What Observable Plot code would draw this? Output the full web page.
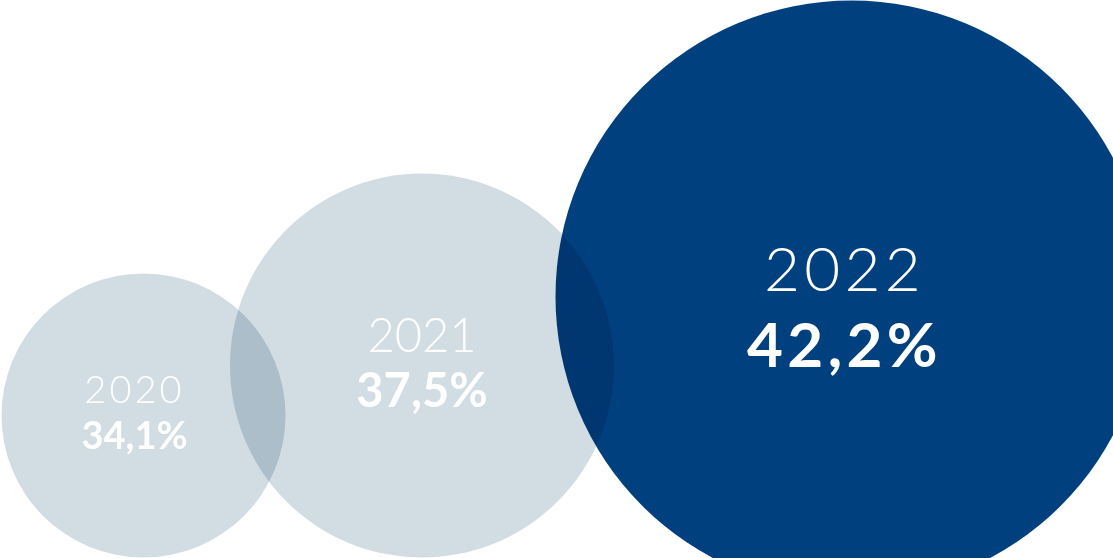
<!DOCTYPE html>
<html><head><meta charset="utf-8">
<script src="https://cdn.jsdelivr.net/npm/d3@7"></script>
<script src="https://cdn.jsdelivr.net/npm/@observablehq/plot@0.6"></script>
<style>
html,body{margin:0;padding:0;background:#fff;}
#chart svg{display:block;}
#chart svg [font-size="38"][font-weight="300"]{letter-spacing:0.08em;}
#chart svg [font-size="62"]{letter-spacing:0.07em;}
</style></head><body><div id="chart"></div>
<script>
// Data
const years = [2020, 2021, 2022];
const values = [34.1, 37.5, 42.2];
const labels = ["34,1%", "37,5%", "42,2%"];
const highlight = [false, false, true];

const data = years.map((y, i) => ({year: y, value: values[i], label: labels[i], highlight: highlight[i]}));

// Styles (kept apart from the data)
const lightFill = "#d1dce3";
const darkFill = "#00407f";
const fontSizes = [38, 47, 62];
const textDx = [-9, 0, -7];
const yearDy = [-12.5, -14, -6];
const labelDy = [7, 8, 26];

const textMarks = data.flatMap((d, i) => [
  Plot.text([d], {x: "year", y: "value", text: d => String(d.year), fill: "white",
    fontFamily: "Lato", fontWeight: 300, fontSize: fontSizes[i], lineAnchor: "bottom", dx: textDx[i], dy: yearDy[i]}),
  Plot.text([d], {x: "year", y: "value", text: "label", fill: "white",
    fontFamily: "Lato", fontWeight: 700, fontSize: fontSizes[i], lineAnchor: "top", dx: textDx[i], dy: labelDy[i]})
]);

const chart = Plot.plot({
  width: 1113,
  height: 558,
  margin: 0,
  x: {type: "linear", domain: [2020, 2021, 2022], range: [143, 421.5, 851], axis: null},
  y: {type: "linear", domain: [34.1, 42.2], range: [415, 296], axis: null},
  r: {type: "linear", domain: [34.1, 37.5, 42.2], range: [142, 192, 296]},
  marks: [
    Plot.dot(data, {x: "year", y: "value", r: "value",
      fill: d => d.highlight ? darkFill : lightFill, fillOpacity: 1,
      stroke: null, mixBlendMode: "multiply"}),
    ...textMarks
  ]
});
document.getElementById("chart").appendChild(chart);
</script>
</body></html>
